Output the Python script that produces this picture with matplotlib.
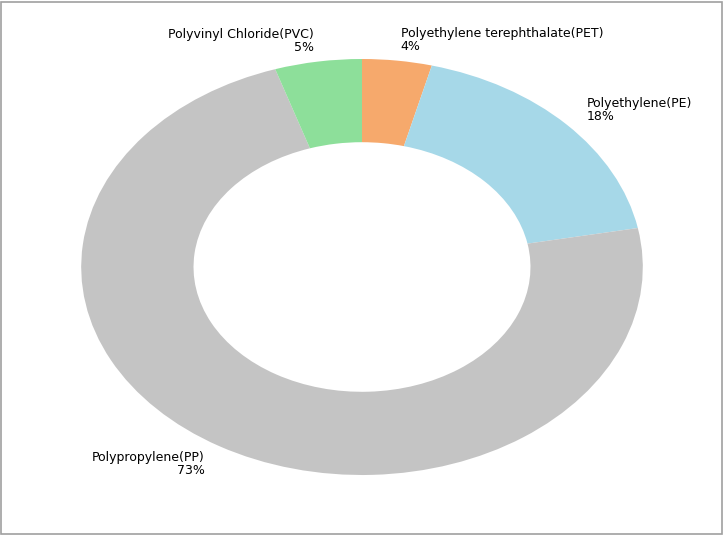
import matplotlib
matplotlib.use("Agg")
import matplotlib.pyplot as plt
from matplotlib.patches import Rectangle

categories = ["Polyethylene terephthalate(PET)", "Polyethylene(PE)", "Polypropylene(PP)", "Polyvinyl Chloride(PVC)"]
values = [4, 18, 73, 5]
colors = ["#f6a96c", "#a6d8e8", "#c4c4c4", "#8ddf9a"]

labels = [f"{c}\n{v}%" for c, v in zip(categories, values)]

fig = plt.figure(figsize=(7.24, 5.36), dpi=100)
ax = fig.add_axes([11/724, 9/536, 702/724, 520/536])
wedges, texts = ax.pie(values, labels=labels, colors=colors, startangle=90, counterclock=False,
                       wedgeprops=dict(width=0.4), labeldistance=1.1,
                       textprops=dict(fontsize=9, linespacing=1.0))
ax.set_aspect("auto")
ax.set_xlim(-1.25, 1.25)
ax.set_ylim(-1.25, 1.25)

fig.patches.append(Rectangle((0.002, 0.003), 0.995, 0.993, transform=fig.transFigure,
                             fill=False, edgecolor="#a0a0a0", linewidth=1.2))
fig.savefig("out.png", dpi=100)
